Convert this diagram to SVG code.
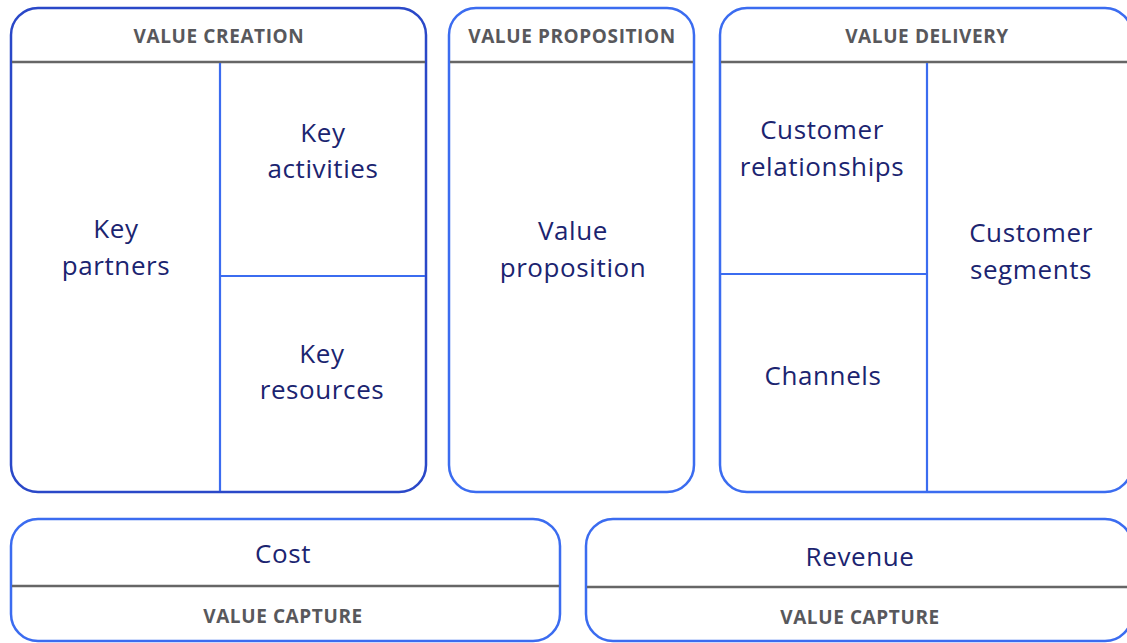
<svg xmlns="http://www.w3.org/2000/svg" width="1127" height="643" viewBox="0 0 1127 643">
<style>
.box{fill:#ffffff;stroke:#3b6cf0;stroke-width:2.5}
.dark{stroke:#2a48c8}
.div{stroke:#3b6cf0;stroke-width:2.2;fill:none}
.hdr{stroke:#666666;stroke-width:2.5;fill:none}
.h{font-family:"Open Sans","Noto Sans",sans-serif;font-weight:bold;font-size:19px;letter-spacing:0.6px;fill:#58585c;text-anchor:middle}
.t{font-family:"Open Sans","Noto Sans",sans-serif;font-weight:500;font-size:26px;letter-spacing:0.6px;fill:#1b2470;text-anchor:middle}
</style>
<rect width="1127" height="643" fill="#ffffff"/>
<g id="value-creation">
<rect class="box dark" x="11" y="8" width="415" height="484" rx="27"/>
<line class="hdr" x1="12" y1="62" x2="425" y2="62"/>
<line class="div" x1="220" y1="63" x2="220" y2="491"/>
<line class="div" x1="220" y1="276" x2="425" y2="276"/>
<text class="h" x="219" y="43">VALUE CREATION</text>
<text class="t" x="116" y="238">Key</text>
<text class="t" x="116" y="275">partners</text>
<text class="t" x="323" y="142">Key</text>
<text class="t" x="323" y="178">activities</text>
<text class="t" x="322" y="363">Key</text>
<text class="t" x="322" y="399">resources</text>
</g>
<g id="value-proposition">
<rect class="box" x="449" y="8" width="245" height="484" rx="27"/>
<line class="hdr" x1="450" y1="62" x2="693" y2="62"/>
<text class="h" x="572" y="43">VALUE PROPOSITION</text>
<text class="t" x="573" y="240">Value</text>
<text class="t" x="573" y="277">proposition</text>
</g>
<g id="value-delivery">
<rect class="box" x="720" y="8" width="412" height="484" rx="27"/>
<line class="hdr" x1="721" y1="62" x2="1127" y2="62"/>
<line class="div" x1="927" y1="63" x2="927" y2="491"/>
<line class="div" x1="721" y1="274" x2="927" y2="274"/>
<text class="h" x="927" y="43">VALUE DELIVERY</text>
<text class="t" x="822" y="139">Customer</text>
<text class="t" x="822" y="176">relationships</text>
<text class="t" x="1031" y="242">Customer</text>
<text class="t" x="1031" y="279">segments</text>
<text class="t" x="823" y="385">Channels</text>
</g>
<g id="cost">
<rect class="box" x="11" y="519" width="549" height="122" rx="27"/>
<line class="hdr" x1="12" y1="586" x2="559" y2="586"/>
<text class="t" x="283" y="563">Cost</text>
<text class="h" x="283" y="623">VALUE CAPTURE</text>
</g>
<g id="revenue">
<rect class="box" x="586" y="519" width="546" height="122" rx="27"/>
<line class="hdr" x1="587" y1="587" x2="1127" y2="587"/>
<text class="t" x="860" y="566">Revenue</text>
<text class="h" x="860" y="624">VALUE CAPTURE</text>
</g>
<g id="connectors"/>
</svg>
